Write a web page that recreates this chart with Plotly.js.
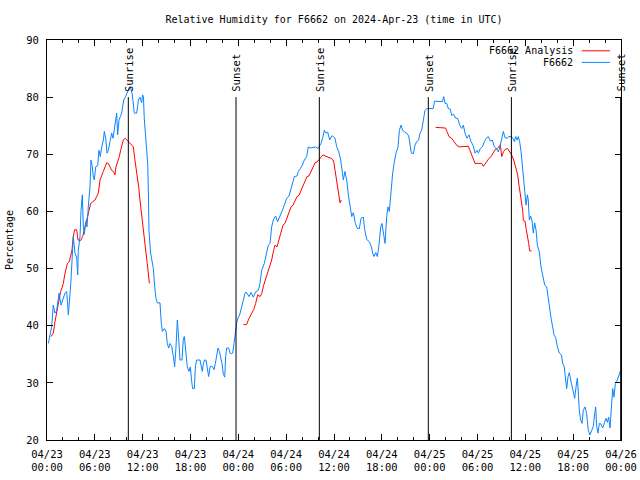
<!DOCTYPE html>
<html>
<head>
<meta charset="utf-8">
<script src="https://cdn.plot.ly/plotly-3.0.1.min.js"></script>
<style>html,body{margin:0;padding:0;background:#fff;}#chart{width:640px;height:480px;}</style>
</head>
<body>
<div id="chart"></div>
<script>
// ---- data (hours after 2024-04-23 00:00 UTC) ----
var stationHours = [0.17,0.38,0.58,0.79,1.0,1.21,1.34,1.51,1.76,2.05,2.26,2.47,2.68,2.89,3.01,3.30,3.51,3.72,3.85,3.93,4.14,4.27,4.43,4.56,4.68,4.85,5.02,5.18,5.39,5.52,5.69,5.81,5.94,6.10,6.36,6.52,6.69,6.86,7.07,7.19,7.36,7.53,7.69,7.90,8.11,8.28,8.45,8.61,8.74,8.86,9.03,9.20,9.37,9.62,9.87,10.12,10.45,10.70,10.95,11.25,11.46,11.67,11.87,12.0,12.1,12.2,12.33,12.5,12.63,12.72,12.8,13.0,13.17,13.34,13.51,13.67,13.84,14.17,14.34,14.47,14.72,14.93,15.09,15.26,15.43,15.64,15.85,16.01,16.18,16.35,16.52,16.68,16.93,17.10,17.23,17.39,17.60,17.81,17.98,18.15,18.27,18.48,18.61,18.77,19.19,19.36,19.48,19.61,19.78,19.94,20.11,20.28,20.45,20.61,20.78,20.95,21.12,21.28,21.45,21.62,21.78,21.95,22.12,22.29,22.41,22.54,22.79,22.96,23.12,23.29,23.46,23.62,23.79,24.0,24.13,24.42,24.84,24.98,25.34,25.59,25.88,26.17,26.51,26.72,26.93,27.26,27.55,27.76,27.98,28.18,28.39,28.68,28.93,29.23,29.52,29.77,30.06,30.36,30.69,31.02,31.36,31.53,31.78,32.03,32.28,32.57,32.78,33.03,33.4,33.70,34.0,34.37,34.62,34.79,35.0,35.21,35.46,35.71,35.83,36.13,36.34,36.59,36.84,37.0,37.17,37.38,37.59,37.80,38.01,38.22,38.43,38.68,38.93,39.18,39.39,39.68,39.85,40.1,40.43,40.69,40.85,41.02,41.23,41.44,41.65,41.86,42.02,42.19,42.40,42.61,42.77,42.94,43.15,43.36,43.57,43.78,44.03,44.2,44.41,44.61,44.87,45.12,45.37,45.54,45.70,45.95,46.16,46.37,46.62,46.79,47.0,47.21,47.42,47.63,47.96,48.46,48.6,49.30,49.59,49.76,49.93,50.14,50.34,50.59,50.76,51.01,51.26,51.51,51.77,52.02,52.23,52.43,52.68,52.93,53.19,53.44,53.69,53.94,54.11,54.36,54.61,54.86,55.11,55.36,55.61,55.86,56.11,56.36,56.61,56.78,57.03,57.24,57.45,57.70,57.95,58.2,58.46,58.62,58.79,58.96,59.12,59.29,59.46,59.63,59.79,59.96,60.09,60.25,60.37,60.50,60.67,60.84,61.0,61.17,61.34,61.51,61.76,61.97,62.18,62.43,62.68,62.89,63.10,63.26,63.43,63.60,63.81,64.02,64.27,64.52,64.69,64.89,65.06,65.19,65.36,65.52,65.69,65.85,66.02,66.19,66.36,66.52,66.65,66.77,66.94,67.11,67.27,67.49,67.69,67.90,68.11,68.32,68.53,68.70,68.82,68.95,69.12,69.28,69.49,69.70,69.91,70.12,70.29,70.45,70.62,70.79,70.96,71.12,71.29,71.46,71.67,71.88,71.98];
var stationRH = [36.9,38.7,39.8,43.6,42.2,42.6,44.5,45.7,43.6,44.8,45.7,46,41.9,45.7,48,55.6,52.7,52,48.9,53.2,55.6,60.2,62.9,57.3,56,58.2,57.3,60.8,64.3,69,67.8,66,65.5,67.8,68,70.7,69.6,71.3,72.5,74,72.8,70.2,70.7,72.2,73.7,72.8,74.2,76,77.2,73.4,76,76.6,77.2,79.5,80.1,81,81.8,80.4,77.2,77.2,79.5,80,79,80.4,80,76.3,74,71.9,68.4,63,56.5,52.7,51.5,50,46.8,44.8,44,44,40.4,39,39.5,39,36.9,36.1,36.9,36.4,34.6,32.8,36.3,41,37.7,34,34,37.7,38.1,35.2,32.8,32,32.8,30.2,29,29,32.8,34,34,32.8,32,33.4,34,34,32.8,31.1,32.8,32.9,32.8,32.3,33.4,34.6,36.1,35.5,34.6,33.4,31.5,31,34.6,36.1,36.1,35.2,35.1,35.2,36.9,39,40.5,41.6,41.7,43.3,45.7,45.9,45.1,45.8,45,45.9,46.2,47.4,49.7,50.9,52.7,54.1,54.4,57.3,58.5,59.2,58.2,59.1,60.2,61.1,62.3,62.7,64.3,66.1,66.2,67,67.5,68.1,69,69.6,71.3,71.1,71.2,71.3,71,71.9,73.1,74.2,73.7,73.9,72.5,73.2,73.2,72.8,71.3,70.5,69,67.2,65.5,67,65.5,62.9,61.1,59.1,59.8,57.9,57,57,58.8,59,56.8,55.1,54.7,53.8,52.7,52.1,52.8,52.1,54.2,57.3,57.9,56.2,54.4,59.1,60.8,60,64.3,66.7,68.7,70.2,71.3,74.2,75.1,74.2,73.9,73.7,73.2,71.9,70.2,70.1,71.6,72.2,72.5,73.7,74.2,76,77.7,78,78,78,79.3,79.3,79.2,80.1,78.9,78.9,78,77.9,76.8,77,76.3,76.3,75.1,74.5,75.1,73.7,72.8,73.4,72.2,71.6,70.2,70.7,70.2,71,71.3,72.2,72.8,73.1,72.3,72.5,71.3,71,70.4,71.1,72.5,74,72.9,72.8,73.1,73.1,72.8,72.2,73.1,72.5,73.1,72.2,70.5,68.1,65.8,63.7,61.1,62.9,62,58.5,59.2,58.3,56.2,58,56.8,54.1,52.9,50.3,48.9,47.1,46.8,44.5,43,41,39.8,38.4,37.9,36.3,35.2,34.9,33.4,32.8,30.5,29,31.1,31.8,30.5,29.6,28.5,27.3,29.3,30.8,28.2,25.2,23.5,22.9,25.2,25.8,24.6,21.7,20.9,21.5,22.4,24.6,25.8,22.4,21.2,22.9,22.8,22.1,23.2,23.8,23.1,24,22.1,25.2,29,27.5,29.9,30.2,31.3,31.9,32.2];

var analysisHours = [0.5,0.79,1.0,1.21,1.42,1.55,1.71,1.88,2.05,2.22,2.38,2.55,2.80,2.97,3.13,3.30,3.47,3.72,3.89,4.22,4.47,4.64,4.89,5.06,5.31,5.48,5.73,6.02,6.23,6.44,6.65,6.86,7.07,7.28,7.48,7.69,7.90,8.11,8.32,8.53,8.65,8.82,9.07,9.24,9.41,9.57,9.82,10.08,10.33,10.58,10.83,11.0,11.16,11.33,11.5,11.66,11.83,12.0,12.08,12.25,12.42,12.58,12.71,12.84,
  18.0,
  24.63,25.04,25.34,25.67,25.92,26.17,26.43,26.72,26.93,27.18,27.43,27.68,27.93,28.18,28.43,28.6,28.85,29.1,29.35,29.6,29.85,30.1,30.36,30.61,30.86,31.11,31.36,31.61,31.86,32.11,32.36,32.61,32.86,33.11,33.37,33.62,33.87,34.12,34.37,34.62,34.87,35.12,35.37,35.63,35.88,36.0,36.13,36.25,36.38,36.5,36.63,36.76,36.92,
  42.0,
  48.75,49.09,49.51,49.99,50.17,50.42,50.76,51.09,51.43,51.76,52.1,52.43,52.85,53.02,53.27,53.48,53.69,54.11,54.53,54.74,54.95,55.2,55.45,55.7,55.95,56.2,56.45,56.7,56.87,57.03,57.28,57.53,57.78,58.03,58.28,58.54,58.7,58.87,59.04,59.2,59.37,59.54,59.67,59.75,59.96,60.12,60.29,60.42,60.54,60.79];
var analysisRH = [38.1,38.7,40.7,42.5,43.6,45.1,46,46.6,47.4,48.9,50.1,50.9,51.2,52.4,53.2,55.6,56.8,56.8,55,54.9,55.6,56.5,57.9,59.1,60.2,61.4,61.7,62,62.6,63.2,65.5,66.1,67,67.8,68.5,68.4,67.8,67.2,67,66.4,67.8,68.5,69.6,70.7,71.6,72.5,72.8,72.4,72,71.6,71.3,69.3,67.8,66.1,64.3,62,59.7,57.9,56.2,54.4,52.7,50.9,49.5,47.4,
  null,
  40.2,40.2,41.3,42.2,42.8,43.9,45.4,45.1,45.6,47.1,48.3,49.5,50.3,51.5,53.2,54.1,53.8,55,56.5,57.6,57.9,58.8,60,60.8,61.1,61.9,62.6,62.8,63.7,64.6,65.5,66.1,66.2,67,67.8,68.5,68.7,69,69.5,69.9,69.7,69.6,69.5,69.3,69,68.4,67.2,66.1,64.6,63.2,62.3,61.5,62.0,
  null,
  74.7,74.7,74.7,74.6,74,73.1,72.8,72.2,71.5,71.3,71.3,71.4,71.4,70.8,69.9,69,68.4,68.4,68.4,67.9,68.4,68.8,69.3,69.6,70.2,70.8,71,71.3,71.7,69.6,70.5,70.9,71,70.5,69.9,69,68.1,67.2,66.4,64.6,62.9,61.4,60.2,58.4,58.3,56.8,55.6,54.4,53.1,53.1];

var eventHours = [10.2, 23.71, 34.16, 47.83, 58.25, 71.96];
var eventLabels = ['Sunrise','Sunset','Sunrise','Sunset','Sunrise','Sunset'];

var tickHours = [0,6,12,18,24,30,36,42,48,54,60,66,72];
var tickLabels = ['04/23<br>00:00','04/23<br>06:00','04/23<br>12:00','04/23<br>18:00',
  '04/24<br>00:00','04/24<br>06:00','04/24<br>12:00','04/24<br>18:00',
  '04/25<br>00:00','04/25<br>06:00','04/25<br>12:00','04/25<br>18:00','04/26<br>00:00'];

var seriesNames = ['F6662 Analysis', 'F6662'];
var seriesColors = ['#ff0000', '#0a84ff'];

// ---- helpers ----
var BASE = Date.UTC(2024, 3, 23, 0, 0, 0);
function toMs(h) { return BASE + h * 3600000; }

var FONT = 'DejaVu Sans Mono';

var traces = [
  { x: analysisHours.map(toMs), y: analysisRH, type: 'scatter', mode: 'lines',
    name: seriesNames[0], line: { color: seriesColors[0], width: 1 }, connectgaps: false, showlegend: false },
  { x: stationHours.map(toMs), y: stationRH, type: 'scatter', mode: 'lines',
    name: seriesNames[1], line: { color: seriesColors[1], width: 1 }, showlegend: false }
];

var shapes = [];
var annotations = [];
eventHours.forEach(function (h, i) {
  shapes.push({ type: 'line', xref: 'x', yref: 'y', x0: toMs(h), x1: toMs(h), y0: 20, y1: 80,
    line: { color: '#000', width: 1 } });
  annotations.push({ xref: 'x', yref: 'y', x: toMs(h), y: 80.6, text: eventLabels[i],
    textangle: -90, showarrow: false, xanchor: 'center', yanchor: 'bottom',
    font: { family: FONT, size: 10.5, color: '#000' } });
});

// gnuplot-style legend: text right-aligned, sample line on the right
var legendY = [0.973, 0.944];
seriesNames.forEach(function (n, i) {
  annotations.push({ xref: 'paper', yref: 'paper', x: 0.92, y: legendY[i], text: n,
    showarrow: false, xanchor: 'right', yanchor: 'middle',
    font: { family: FONT, size: 10, color: '#000' } });
  shapes.push({ type: 'line', xref: 'paper', yref: 'paper', x0: 0.9315, x1: 0.981,
    y0: legendY[i], y1: legendY[i], line: { color: seriesColors[i], width: 1 } });
});

var layout = {
  width: 640, height: 480,
  margin: { l: 47, r: 19, t: 40, b: 40, pad: 0 },
  paper_bgcolor: '#fff', plot_bgcolor: '#fff',
  font: { family: FONT, size: 10, color: '#000' },
  title: { text: 'Relative Humidity for F6662 on 2024-Apr-23 (time in UTC)',
    xref: 'paper', x: 0.5, xanchor: 'center', yref: 'container', y: 0.96, yanchor: 'middle',
    font: { family: FONT, size: 10, color: '#000' } },
  showlegend: false,
  xaxis: {
    type: 'date', range: [toMs(0), toMs(72)],
    tickmode: 'array', tickvals: tickHours.map(toMs), ticktext: tickLabels,
    ticks: 'inside', ticklen: 6, tickwidth: 1, tickcolor: '#000',
    minor: { tickmode: 'linear', tick0: toMs(0), dtick: 7200000, ticks: 'inside', ticklen: 3, tickcolor: '#000', showgrid: false },
    showline: true, linecolor: '#000', linewidth: 1, mirror: 'allticks',
    showgrid: false, zeroline: false,
    tickfont: { family: FONT, size: 10.5, color: '#000' }, ticklabelstandoff: 4
  },
  yaxis: {
    range: [20, 90], tickmode: 'linear', tick0: 20, dtick: 10,
    ticks: 'inside', ticklen: 6, tickwidth: 1, tickcolor: '#000',
    showline: true, linecolor: '#000', linewidth: 1, mirror: 'allticks',
    showgrid: false, zeroline: false,
    tickfont: { family: FONT, size: 10.5, color: '#000' }, ticklabelstandoff: 5,
    title: { text: 'Percentage', font: { family: FONT, size: 10, color: '#000' }, standoff: 10 }
  },
  shapes: shapes,
  annotations: annotations
};

Plotly.newPlot('chart', traces, layout, { displayModeBar: false, staticPlot: true });
</script>
</body>
</html>
